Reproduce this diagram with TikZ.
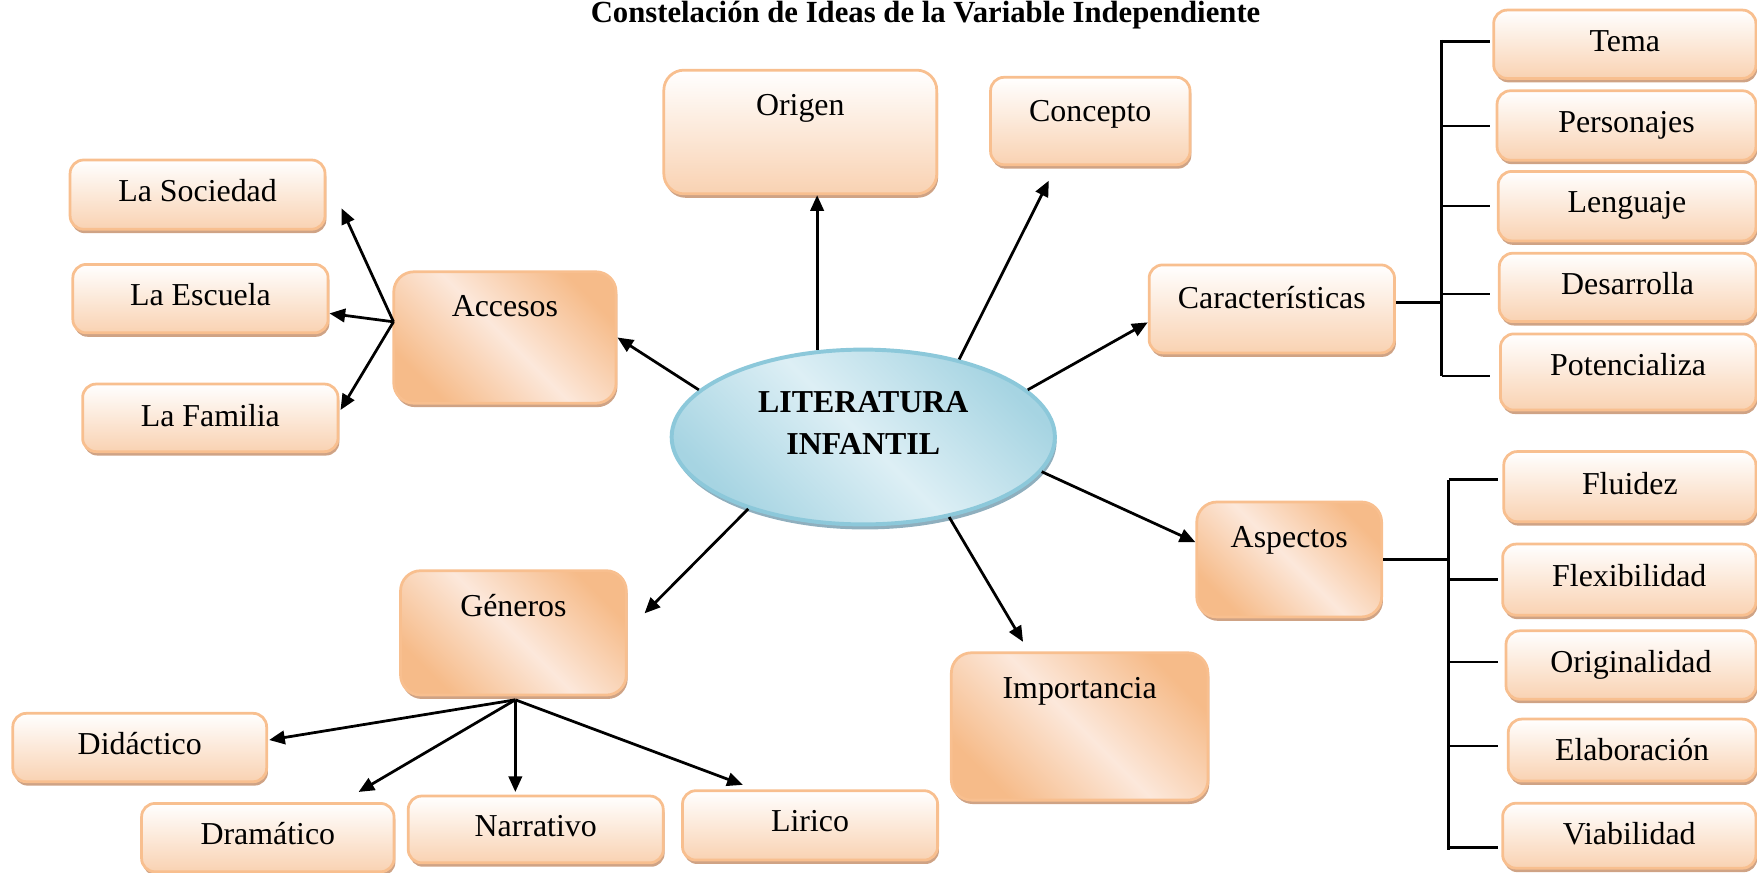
\documentclass[tikz,border=0pt]{standalone}
\usepackage{fontspec}
\setmainfont{Liberation Serif}
\usepackage{tikz}
\usetikzlibrary{
  positioning,
  calc,
  arrows.meta,
  shapes.geometric,
  shadows
}
\definecolor{borde}{HTML}{F8BF8F}
\definecolor{durazno}{HTML}{F9D2B2}
\definecolor{duraznof}{HTML}{F6BB89}
\definecolor{duraznoc}{HTML}{FCE8DB}
\definecolor{sombra}{HTML}{CFA385}
\definecolor{celeste}{HTML}{A6D4E2}
\definecolor{celestec}{HTML}{DDEFF5}
\definecolor{celesteb}{HTML}{8CC8DA}
\definecolor{sombraz}{HTML}{8FAFBE}
\newcommand{\letra}{\fontsize{8.1}{10.7}\selectfont}

\tikzstyle{flecha}=[-{Triangle[length=0.14cm, width=0.12cm]}, line width=0.7pt]
\tikzstyle{linea}=[line width=0.7pt]
\tikzstyle{caja}=[draw=borde, line width=0.7pt, rounded corners=0.12cm, inner sep=0pt,
  top color=white, bottom color=durazno,
  drop shadow={shadow xshift=0.012cm, shadow yshift=-0.035cm, fill=sombra, opacity=1}]
\tikzstyle{cajag}=[caja, rounded corners=0.18cm, left color=duraznof, right color=duraznof,
  middle color=duraznoc, shading angle=-45]
\tikzstyle{nucleo}=[ellipse, draw=celesteb, line width=1pt, inner sep=0pt,
  left color=celeste, right color=celeste, middle color=celestec, shading angle=-45,
  drop shadow={shadow xshift=0.015cm, shadow yshift=-0.045cm, fill=sombraz, opacity=1},
  minimum width=3.42cm, minimum height=1.56cm, font=\letra\bfseries]

\begin{document}
\begin{tikzpicture}[font=\letra]
    \useasboundingbox (0,0) rectangle (15.68,7.79);

    % titulo
    \node[font=\fontsize{7.8}{9.4}\selectfont\bfseries, anchor=base] (titulo) at (8.26,7.59)
      {Constelación de Ideas de la Variable Independiente};

    % idea central
    \node[nucleo, text height=0.2cm, text depth=0.64cm] (lit) at (7.704,3.89)
      {\begin{tabular}[t]{@{}c@{}}LITERATURA\\INFANTIL\end{tabular}};

    % ideas principales
    \node[caja, rounded corners=0.18cm, minimum width=2.436cm, text height=0.407cm, text depth=0.697cm] (origen) at (7.142,6.612) {Origen};
    \node[caja, minimum width=1.78cm, text height=0.39cm, text depth=0.39cm] (concepto) at (9.73,6.71) {Concepto};
    \node[cajag, minimum width=1.984cm, text height=0.40cm, text depth=0.773cm] (accesos) at (4.506,4.778) {Accesos};
    \node[caja, minimum width=2.19cm, text height=0.385cm, text depth=0.40cm] (caract) at (11.35,5.033) {Características};
    \node[cajag, minimum width=1.65cm, text height=0.41cm, text depth=0.616cm] (aspectos) at (11.505,2.797) {Aspectos};
    \node[cajag, minimum width=2.29cm, text height=0.405cm, text depth=0.91cm] (importancia) at (9.635,1.307) {Importancia};
    \node[cajag, minimum width=2.015cm, text height=0.405cm, text depth=0.705cm] (generos) at (4.582,2.142) {Géneros};

    % accesos
    \node[caja, minimum width=2.275cm, text height=0.37cm, text depth=0.248cm] (sociedad) at (1.763,6.053) {La Sociedad};
    \node[caja, minimum width=2.278cm, text height=0.37cm, text depth=0.241cm] (escuela) at (1.789,5.125) {La Escuela};
    \node[caja, minimum width=2.279cm, text height=0.38cm, text depth=0.223cm] (familia) at (1.877,4.061) {La Familia};

    % caracteristicas
    \node[caja, minimum width=2.34cm, text height=0.37cm, text depth=0.24cm] (tema) at (14.50,7.395) {Tema};
    \node[caja, minimum width=2.31cm, text height=0.37cm, text depth=0.25cm] (personajes) at (14.515,6.67) {Personajes};
    \node[caja, minimum width=2.30cm, text height=0.365cm, text depth=0.255cm] (lenguaje) at (14.52,5.95) {Lenguaje};
    \node[caja, minimum width=2.29cm, text height=0.365cm, text depth=0.245cm] (desarrolla) at (14.525,5.225) {Desarrolla};
    \node[caja, minimum width=2.28cm, text height=0.375cm, text depth=0.305cm] (potencializa) at (14.53,4.47) {Potencializa};

    % aspectos
    \node[caja, minimum width=2.25cm, text height=0.38cm, text depth=0.246cm] (fluidez) at (14.545,3.447) {Fluidez};
    \node[caja, minimum width=2.26cm, text height=0.38cm, text depth=0.255cm] (flexibilidad) at (14.54,2.617) {Flexibilidad};
    \node[caja, minimum width=2.23cm, text height=0.375cm, text depth=0.235cm] (originalidad) at (14.555,1.855) {Originalidad};
    \node[caja, minimum width=2.21cm, text height=0.37cm, text depth=0.183cm] (elaboracion) at (14.565,1.096) {Elaboración};
    \node[caja, minimum width=2.26cm, text height=0.37cm, text depth=0.21cm] (viabilidad) at (14.54,0.332) {Viabilidad};

    % generos
    \node[caja, minimum width=2.265cm, text height=0.37cm, text depth=0.24cm] (didactico) at (1.247,1.119) {Didáctico};
    \node[caja, minimum width=2.253cm, text height=0.37cm, text depth=0.24cm] (dramatico) at (2.39,0.315) {Dramático};
    \node[caja, minimum width=2.276cm, text height=0.363cm, text depth=0.233cm] (narrativo) at (4.781,0.388) {Narrativo};
    \node[caja, minimum width=2.277cm, text height=0.366cm, text depth=0.253cm] (lirico) at (7.229,0.424) {Lirico};

    % del nucleo a las ideas
    \draw[flecha] (lit.118) -- (lit.118 |- origen.south);
    \draw[flecha] (lit.39) -- ($(concepto.south)+(-0.37,-0.13)$);
    \draw[flecha] (lit.16) -- ($(caract.west)+(0,-0.12)$);
    \draw[flecha] (lit.349) -- ($(aspectos.west)+(0,0.155)$);
    \draw[flecha] (lit.317) -- ($(importancia.north)+(-0.505,0.085)$);
    \draw[flecha] (lit.212) -- ($(generos.east)+(0.15,0.174)$);
    \draw[flecha] (lit.164) -- (accesos.east);

    % abanico de accesos
    \coordinate (accj) at ($(accesos.west)+(0.01,0.14)$);
    \draw[flecha] (accj) -- ($(sociedad.east)+(0.135,-0.122)$);
    \draw[flecha] (accj) -- ($(escuela.east)+(0,-0.132)$);
    \draw[flecha] (accj) -- ($(familia.east)+(0.01,0.07)$);

    % abanico de generos
    \coordinate (genj) at ($(generos.south)+(0.017,-0.03)$);
    \draw[flecha] (genj) -- ($(didactico.east)+(0.01,0.067)$);
    \draw[flecha] (genj) -- ($(dramatico.north)+(0.81,0.09)$);
    \draw[flecha] (genj) -- ($(genj |- narrativo.north)+(0,0.024)$);
    \draw[flecha] (genj) -- ($(lirico.north)+(-0.6,0.04)$);

    % llave de caracteristicas
    \coordinate (cbar) at (12.865,0);
    \coordinate (csal) at ($(caract.east)+(0,0.06)$);
    \draw[linea] (csal) -- (csal -| cbar);
    \draw[linea] ($(cbar |- tema.west)+(0,0.04)$) -- ($(cbar |- potencializa.west)+(0,-0.036)$);
    \foreach \n/\d in {tema/0.023, personajes/-0.005, lenguaje/0.002, desarrolla/-0.059, potencializa/-0.036}
      \draw[linea] ($(cbar |- \n.west)+(0,\d)$) -- ++(0.43,0);

    % llave de aspectos
    \coordinate (abar) at (12.93,0);
    \draw[linea] (aspectos.east) -- (aspectos.east -| abar);
    \draw[linea] ($(abar |- fluidez.west)+(0,0.063)$) -- ($(abar |- viabilidad.west)+(0,-0.128)$);
    \foreach \n/\d in {fluidez/0.063, flexibilidad/0, originalidad/0.027, elaboracion/0.036, viabilidad/-0.107}
      \draw[linea] ($(abar |- \n.west)+(0,\d)$) -- ++(0.44,0);
\end{tikzpicture}
\end{document}
